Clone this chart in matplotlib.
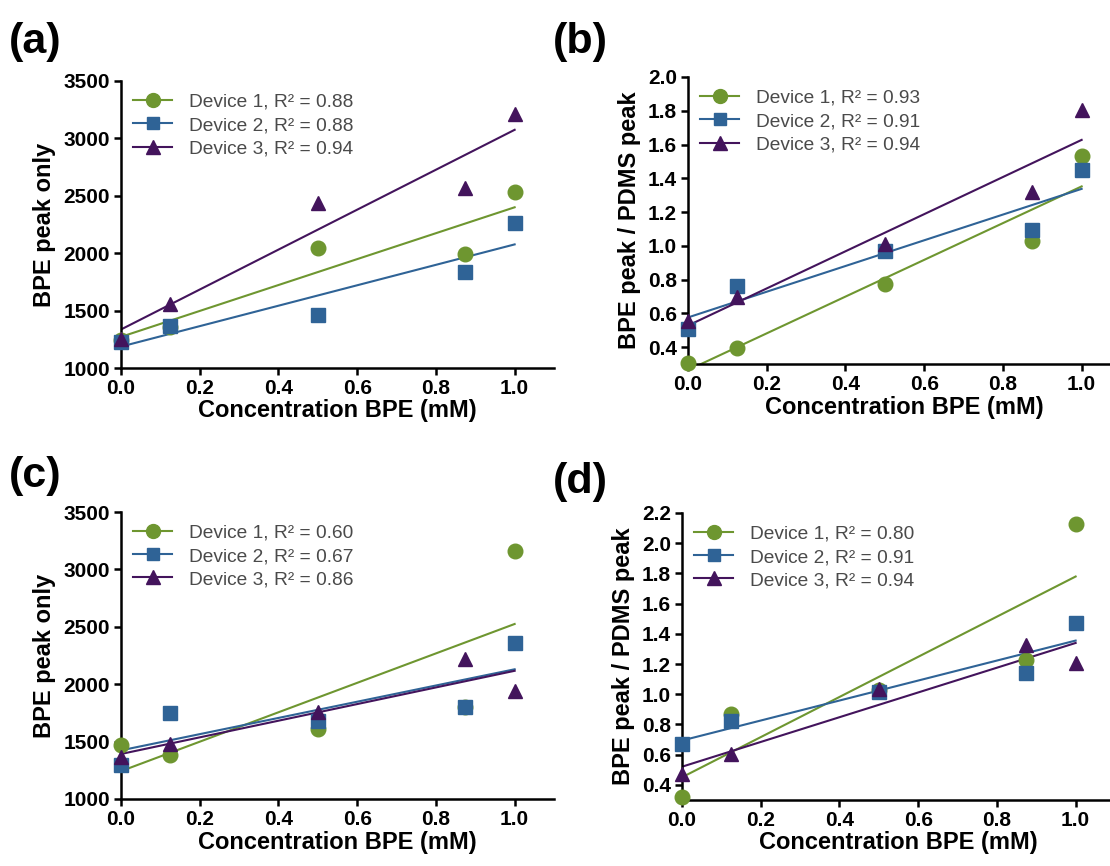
import numpy as np
import matplotlib
matplotlib.use('Agg')
import matplotlib.pyplot as plt
from matplotlib.lines import Line2D

plt.rcParams['font.family'] = ['Liberation Sans', 'DejaVu Sans']

# concentration of BPE (mM), same for every panel
conc = [0.0, 0.125, 0.5, 0.875, 1.0]

# (a) BPE peak only
a_dev1 = [1244, 1359, 2049, 1997, 2529]
a_dev2 = [1225, 1370, 1460, 1839, 2264]
a_dev3 = [1250, 1560, 2437, 2566, 3213]
a_r2 = ['0.88', '0.88', '0.94']

# (b) BPE peak / PDMS peak
b_dev1 = [0.308, 0.396, 0.774, 1.028, 1.534]
b_dev2 = [0.510, 0.760, 0.969, 1.096, 1.448]
b_dev3 = [0.552, 0.699, 1.012, 1.321, 1.804]
b_r2 = ['0.93', '0.91', '0.94']

# (c) BPE peak only
c_dev1 = [1468, 1384, 1607, 1800, 3159]
c_dev2 = [1298, 1746, 1679, 1800, 2361]
c_dev3 = [1370, 1477, 1760, 2220, 1945]
c_r2 = ['0.60', '0.67', '0.86']

# (d) BPE peak / PDMS peak
d_dev1 = [0.321, 0.869, 1.029, 1.226, 2.130]
d_dev2 = [0.674, 0.825, 1.013, 1.138, 1.473]
d_dev3 = [0.470, 0.606, 1.037, 1.329, 1.208]
d_r2 = ['0.80', '0.91', '0.94']

colors = ['#6e9630', '#2f6396', '#43145c']
markers = ['o', 's', '^']
msizes = [10.5, 9.5, 10.5]

W, H = 1110, 866
fig = plt.figure(figsize=(W / 100, H / 100), dpi=100)


def make_axes(left, bottom_px, width=433, height=287):
    return fig.add_axes([left / W, 1 - bottom_px / H, width / W, height / H])


def draw_panel(ax, series, r2, ylim, yticks, ylabel):
    handles = []
    for i, ys in enumerate(series):
        # linear regression line over the measured range
        slope, inter = np.polyfit(conc, ys, 1)
        xs = np.array([0.0, 1.0])
        ax.plot(xs, inter + slope * xs, color=colors[i], lw=1.5, zorder=2)
        ax.plot(conc, ys, linestyle='none', marker=markers[i],
                markersize=msizes[i], color=colors[i], zorder=3, clip_on=False)
        handles.append(Line2D([], [], color=colors[i], lw=1.5, marker=markers[i],
                              markersize=msizes[i] - 0.5,
                              label=f'Device {i + 1}, R\u00b2 = {r2[i]}'))
    ax.set_xlim(0, 1.1)
    ax.set_ylim(*ylim)
    ax.set_xticks([0.0, 0.2, 0.4, 0.6, 0.8, 1.0])
    ax.set_xticklabels(['0.0', '0.2', '0.4', '0.6', '0.8', '1.0'])
    ax.set_yticks(yticks)
    for s in ['top', 'right']:
        ax.spines[s].set_visible(False)
    for s in ['left', 'bottom']:
        ax.spines[s].set_linewidth(1.8)
    ax.tick_params(direction='out', length=5, width=1.8, labelsize=15, pad=3)
    for lab in ax.get_xticklabels() + ax.get_yticklabels():
        lab.set_fontweight('bold')
    ax.set_xlabel('Concentration BPE (mM)', fontsize=17, fontweight='bold', labelpad=1)
    ax.set_ylabel(ylabel, fontsize=17, fontweight='bold', labelpad=5)
    leg = ax.legend(handles=handles, loc='upper left', bbox_to_anchor=(0.0, 1.0),
                    frameon=False, fontsize=13.8, handlelength=2.0, handletextpad=0.9,
                    labelspacing=0.3, borderaxespad=0.25, numpoints=1)
    for t in leg.get_texts():
        t.set_color('#4a4a4a')


ax_a = make_axes(121, 368)
draw_panel(ax_a, [a_dev1, a_dev2, a_dev3], a_r2, (1000, 3500),
           [1000, 1500, 2000, 2500, 3000, 3500], 'BPE peak only')

ax_b = make_axes(688, 364)
draw_panel(ax_b, [b_dev1, b_dev2, b_dev3], b_r2, (0.3, 2.0),
           [0.4, 0.6, 0.8, 1.0, 1.2, 1.4, 1.6, 1.8, 2.0], 'BPE peak / PDMS peak')

ax_c = make_axes(121, 799)
draw_panel(ax_c, [c_dev1, c_dev2, c_dev3], c_r2, (1000, 3500),
           [1000, 1500, 2000, 2500, 3000, 3500], 'BPE peak only')

ax_d = make_axes(682, 800)
draw_panel(ax_d, [d_dev1, d_dev2, d_dev3], d_r2, (0.3, 2.2),
           [0.4, 0.6, 0.8, 1.0, 1.2, 1.4, 1.6, 1.8, 2.0, 2.2], 'BPE peak / PDMS peak')

for txt, x, y in [('(a)', 9, 22), ('(b)', 553, 22), ('(c)', 9, 456), ('(d)', 553, 462)]:
    fig.text(x / W, 1 - y / H, txt, fontsize=31, fontweight='bold', va='top', ha='left')

fig.savefig('out.png', dpi=100)
